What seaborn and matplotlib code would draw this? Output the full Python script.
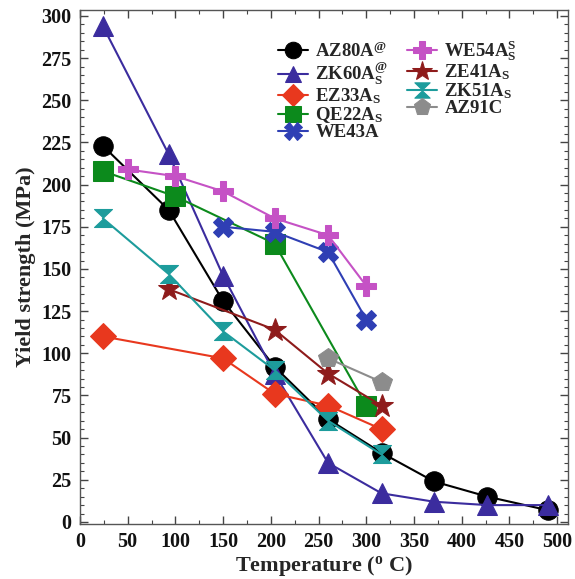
import matplotlib
matplotlib.use("Agg")
import matplotlib.pyplot as plt
import seaborn as sns
import numpy as np
from matplotlib.path import Path
from matplotlib.ticker import MultipleLocator

sns.set_style("ticks")
plt.rcParams['font.family'] = ['Liberation Serif', 'DejaVu Serif']
plt.rcParams['font.weight'] = 'bold'
plt.rcParams['mathtext.fontset'] = 'custom'
plt.rcParams['mathtext.rm'] = 'Liberation Serif:bold'
plt.rcParams['mathtext.it'] = 'Liberation Serif:bold'
plt.rcParams['mathtext.bf'] = 'Liberation Serif:bold'
plt.rcParams['mathtext.default'] = 'rm'

# Data
az80a_t = [24, 93, 150, 204, 260, 316, 371, 427, 490]
az80a_y = [223, 185, 131, 92, 61, 41, 24, 15, 7]
zk60a_t = [24, 93, 150, 204, 260, 316, 371, 427, 490]
zk60a_y = [294, 218, 146, 88, 35, 17, 12, 10, 10]
ez33a_t = [24, 150, 204, 260, 316]
ez33a_y = [110, 97, 76, 69, 55]
qe22a_t = [24, 100, 204, 300]
qe22a_y = [208, 193, 165, 69]
we43a_t = [150, 204, 260, 300]
we43a_y = [175, 172, 160, 120]
we54a_t = [50, 100, 150, 204, 260, 300]
we54a_y = [209, 205, 196, 180, 170, 140]
ze41a_t = [93, 204, 260, 316]
ze41a_y = [138, 114, 88, 69]
zk51a_t = [24, 93, 150, 204, 260, 316]
zk51a_y = [180, 147, 113, 90, 60, 40]
az91c_t = [260, 316]
az91c_y = [97, 83]

hourglass = Path([(-1, 1), (1, 1), (0, 0.05), (-1, 1),
                  (-1, -1), (1, -1), (0, -0.05), (-1, -1)],
                 [Path.MOVETO, Path.LINETO, Path.LINETO, Path.CLOSEPOLY,
                  Path.MOVETO, Path.LINETO, Path.LINETO, Path.CLOSEPOLY])

series = [
    (az80a_t, az80a_y, r'AZ80A$^{@}$', 'black', 'o', 14),
    (zk60a_t, zk60a_y, r'ZK60A$^{@}_{S}$', '#3b2c9e', '^', 14),
    (ez33a_t, ez33a_y, r'EZ33A$_{S}$', '#e8381e', 'D', 13),
    (qe22a_t, qe22a_y, r'QE22A$_{S}$', '#0c8a1c', 's', 14),
    (we43a_t, we43a_y, r'WE43A', '#2f3fb4', 'X', 15),
    (we54a_t, we54a_y, r'WE54A$^{S}_{S}$', '#c552c5', 'P', 15),
    (ze41a_t, ze41a_y, r'ZE41A$_{S}$', '#8e1b1b', '*', 17),
    (zk51a_t, zk51a_y, r'ZK51A$_{S}$', '#1d9c9c', hourglass, 13),
    (az91c_t, az91c_y, r'AZ91C', '#8c8c8c', 'p', 15),
]

fig = plt.figure(figsize=(5.75, 5.79), dpi=100)
ax = fig.add_axes([0.139, 0.095, 0.849, 0.888])

for t, y, lab, col, mk, ms in series:
    sns.lineplot(x=t, y=y, ax=ax, color=col, marker=mk, markersize=ms,
                 markeredgecolor=col, markerfacecolor=col, linewidth=1.5,
                 label=lab, sort=False)

ax.set_xlim(0, 511.5)
ax.set_ylim(-1.2, 303.6)
ax.xaxis.set_major_locator(MultipleLocator(50))
ax.xaxis.set_minor_locator(MultipleLocator(25))
ax.yaxis.set_major_locator(MultipleLocator(25))
ax.yaxis.set_minor_locator(MultipleLocator(5))
ax.tick_params(which='both', direction='in', top=True, right=True,
               labelsize=14.5, colors='#444444', labelcolor='#111111')
ax.tick_params(which='major', length=6, width=1, pad=6)
ax.tick_params(which='minor', length=3, width=0.8)
for lbl in ax.get_xticklabels() + ax.get_yticklabels():
    lbl.set_fontweight('bold')
for s in ax.spines.values():
    s.set_color('#555555')
    s.set_linewidth(1)

ax.set_xlabel(r'Temperature ($^{\mathrm{o}}$ C)', fontsize=16, fontweight='bold', labelpad=1)
ax.set_ylabel('Yield strength (MPa)', fontsize=16, fontweight='bold', labelpad=4)

leg = ax.legend(ncol=2, loc='upper left', bbox_to_anchor=(0.39, 0.958),
                frameon=False, fontsize=13.5, handlelength=1.6,
                handletextpad=0.4, columnspacing=1.0, labelspacing=-0.05,
                markerscale=0.85, borderaxespad=0)
for txt in leg.get_texts():
    txt.set_fontweight('bold')

fig.savefig('out.png', dpi=100)
